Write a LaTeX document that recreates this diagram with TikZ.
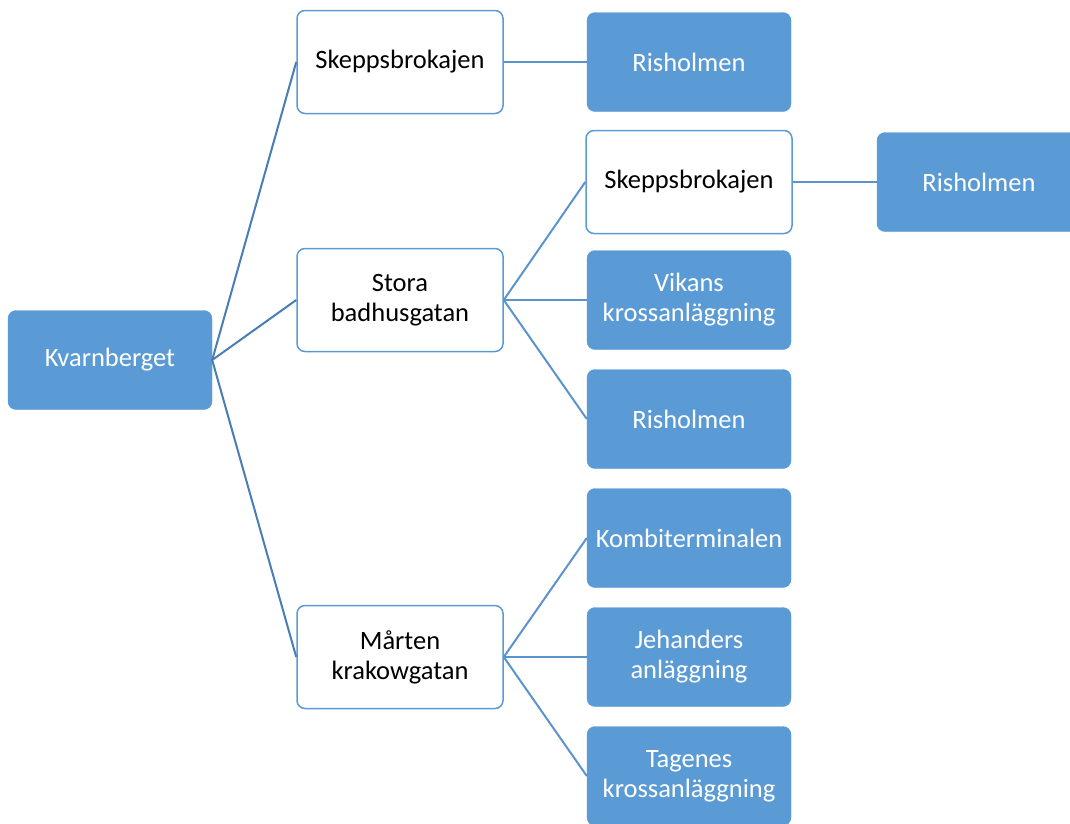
\documentclass[tikz,border=0pt]{standalone}
\usepackage{fontspec}
\setmainfont{Carlito}
\definecolor{accent}{HTML}{5B9BD5}
\definecolor{lineA}{HTML}{4A7DB3}
\definecolor{lineB}{HTML}{5B93CC}
\begin{document}
\begin{tikzpicture}[x=1pt,y=-1pt,
  filled/.style={fill=accent,draw=accent,rounded corners=8pt,minimum width=204pt,minimum height=99pt,text=white,align=center,inner sep=0pt,font=\fontsize{26.5}{30}\selectfont},
  white/.style={fill=white,draw=accent,line width=1.5pt,rounded corners=8pt,minimum width=206pt,minimum height=103pt,text=black,align=center,inner sep=0pt,font=\fontsize{26.5}{30}\selectfont},
  connA/.style={draw=lineA,line width=2pt},
  connB/.style={draw=lineB,line width=2pt}]
\useasboundingbox (0,0) rectangle (1070,823);
\clip (0,0) rectangle (1070,823);
\node[filled] (kv) at (110,360) {Kvarnberget};
\node[white] (sk1) at (400,62) {Skeppsbrokajen};
\node[white] (st) at (400,300) {Stora\\badhusgatan};
\node[white] (ma) at (400,657) {Mårten\\krakowgatan};
\node[filled] (ri1) at (689,62) {Risholmen};
\node[white] (sk2) at (689,182) {Skeppsbrokajen};
\node[filled] (ri2) at (979,182) {Risholmen};
\node[filled] (vi) at (689,300) {Vikans\\krossanläggning};
\node[filled] (ri3) at (689,419) {Risholmen};
\node[filled] (ko) at (689,538) {Kombiterminalen};
\node[filled] (je) at (689,657) {Jehanders\\anläggning};
\node[filled] (ta) at (689,776) {Tagenes\\krossanläggning};
\draw[connA] (kv.east) -- (sk1.west);
\draw[connA] (kv.east) -- (st.west);
\draw[connA] (kv.east) -- (ma.west);
\draw[connB] (sk1.east) -- (ri1.west);
\draw[connB] (st.east) -- (sk2.west);
\draw[connB] (st.east) -- (vi.west);
\draw[connB] (st.east) -- (ri3.west);
\draw[connB] (sk2.east) -- (ri2.west);
\draw[connB] (ma.east) -- (ko.west);
\draw[connB] (ma.east) -- (je.west);
\draw[connB] (ma.east) -- (ta.west);
\end{tikzpicture}
\end{document}
